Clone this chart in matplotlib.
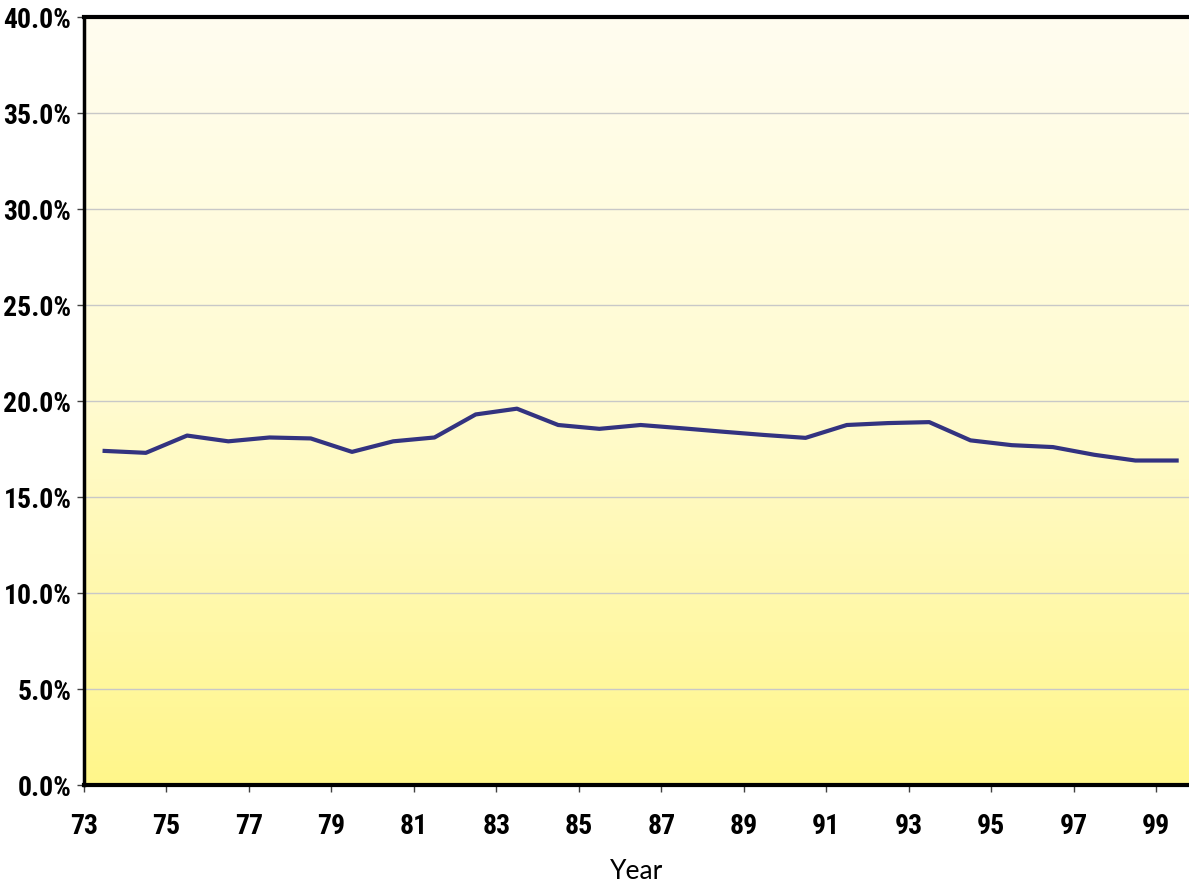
import matplotlib
matplotlib.use("Agg")
import matplotlib.pyplot as plt
import numpy as np
from matplotlib.colors import LinearSegmentedColormap
import logging
logging.getLogger("matplotlib.font_manager").setLevel(logging.ERROR)

years = ["73","74","75","76","77","78","79","80","81","82","83","84","85","86",
         "87","88","89","90","91","92","93","94","95","96","97","98","99"]
values = [17.4, 17.3, 18.2, 17.9, 18.1, 18.05, 17.35, 17.9, 18.1, 19.3, 19.6, 18.75,
          18.55, 18.75, 18.58, 18.4, 18.23, 18.08, 18.75, 18.85, 18.9, 17.95, 17.7,
          17.6, 17.2, 16.9, 16.9]
yticks = [0, 5, 10, 15, 20, 25, 30, 35, 40]

fig = plt.figure(figsize=(11.89, 8.88), dpi=100)
ax = fig.add_axes([84/1189, 1-785/888, 1-84/1189, (785-17)/888])

x = np.arange(len(years))
xlim = (-0.5, 26.3)
ax.set_xlim(*xlim)
ax.set_ylim(0, 40)

cmap = LinearSegmentedColormap.from_list("bg", ["#fff68a", "#fffbd0", "#fffdf0"])
grad = np.linspace(0, 1, 256).reshape(-1, 1)
ax.imshow(grad, aspect="auto", cmap=cmap, origin="lower",
          extent=[xlim[0], xlim[1], 0, 40], zorder=0)

for t in yticks[1:-1]:
    ax.axhline(t, color="#c8c8c8", lw=1.0, zorder=1)

ax.plot(x, values, color="#333380", lw=3.0, zorder=3)

narrow = ["Arial Narrow", "Liberation Sans Narrow", "Roboto Condensed", "Archivo Narrow",
          "PT Sans Narrow", "Open Sans Condensed", "IBM Plex Sans Condensed", "DejaVu Sans"]
ax.set_yticks(yticks)
ax.set_yticklabels([f"{t:.1f}%" for t in yticks], fontsize=20, fontweight="bold", family=narrow)
tick_pos = np.arange(-0.5, 27, 2)
ax.set_xticks(tick_pos)
ax.set_xticklabels(years[::2], fontsize=20, fontweight="bold", family=narrow)
ax.tick_params(axis="both", direction="out", length=5, width=1, color="#404040")
ax.tick_params(axis="x", pad=15)
ax.tick_params(axis="y", pad=4)

ax.set_xlabel("Year", fontsize=19, family=["Gill Sans", "Lato", "DejaVu Sans"], labelpad=14)

for s in ["top", "bottom"]:
    ax.spines[s].set_linewidth(3.0)
    ax.spines[s].set_color("black")
ax.spines["left"].set_linewidth(2.5)
ax.spines["left"].set_color("black")
ax.spines["right"].set_visible(False)

fig.savefig("out.png", dpi=100)
